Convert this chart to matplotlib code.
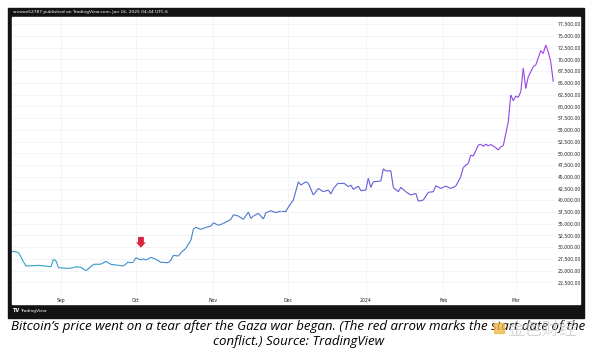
import numpy as np
import matplotlib
matplotlib.use('Agg')
import matplotlib.pyplot as plt
import matplotlib.dates as mdates
from matplotlib.collections import LineCollection
from matplotlib.colors import LinearSegmentedColormap
from matplotlib.patches import Rectangle
from datetime import datetime, timedelta

# BTC/USD closes (irregular sampling)
dates = [
    '2023-08-12', '2023-08-15', '2023-08-17', '2023-08-18', '2023-08-23', '2023-08-28',
    '2023-08-29', '2023-08-30', '2023-08-31', '2023-09-04', '2023-09-06', '2023-09-07',
    '2023-09-09', '2023-09-11', '2023-09-14', '2023-09-17', '2023-09-19', '2023-09-21',
    '2023-09-24', '2023-09-26', '2023-09-28', '2023-09-30', '2023-10-01', '2023-10-03',
    '2023-10-04', '2023-10-05', '2023-10-07', '2023-10-09', '2023-10-11', '2023-10-14',
    '2023-10-15', '2023-10-16', '2023-10-18', '2023-10-19', '2023-10-21', '2023-10-23',
    '2023-10-24', '2023-10-25', '2023-10-27', '2023-10-29', '2023-10-31', '2023-11-01',
    '2023-11-03', '2023-11-05', '2023-11-08', '2023-11-09', '2023-11-11', '2023-11-13',
    '2023-11-15', '2023-11-16', '2023-11-17', '2023-11-19', '2023-11-21', '2023-11-22',
    '2023-11-24', '2023-11-26', '2023-11-28', '2023-11-30', '2023-12-02', '2023-12-03',
    '2023-12-05', '2023-12-06', '2023-12-08', '2023-12-09', '2023-12-11', '2023-12-13',
    '2023-12-15', '2023-12-17', '2023-12-18', '2023-12-19', '2023-12-21', '2023-12-23',
    '2023-12-25', '2023-12-26', '2023-12-27', '2023-12-29', '2023-12-30', '2024-01-01',
    '2024-01-02', '2024-01-03', '2024-01-04', '2024-01-07', '2024-01-08', '2024-01-09',
    '2024-01-11', '2024-01-12', '2024-01-14', '2024-01-15', '2024-01-17', '2024-01-19',
    '2024-01-21', '2024-01-22', '2024-01-24', '2024-01-26', '2024-01-28', '2024-01-29',
    '2024-01-31', '2024-02-02', '2024-02-04', '2024-02-06', '2024-02-08', '2024-02-09',
    '2024-02-11', '2024-02-12', '2024-02-13', '2024-02-15', '2024-02-16', '2024-02-17',
    '2024-02-18', '2024-02-19', '2024-02-20', '2024-02-22', '2024-02-23', '2024-02-24',
    '2024-02-25', '2024-02-27', '2024-02-28', '2024-02-29', '2024-03-01', '2024-03-02',
    '2024-03-03', '2024-03-04', '2024-03-05', '2024-03-06', '2024-03-07', '2024-03-08',
    '2024-03-09', '2024-03-11', '2024-03-12', '2024-03-13', '2024-03-14', '2024-03-15',
    '2024-03-16',
]
prices = [
    29200, 28900, 26900, 26000, 26150, 25860,
    27430, 27100, 25650, 25500, 25650, 25860,
    25720, 25000, 26360, 26400, 27000, 26360,
    26150, 26000, 26920, 26920, 27770, 27280,
    27560, 27280, 27850, 27430, 26800, 26710,
    27280, 28280, 28130, 28840, 29770, 31530,
    33870, 34230, 33800, 34230, 34510, 35220,
    34660, 35080, 35930, 36920, 36640, 35930,
    37490, 36150, 36640, 37220, 36010, 37360,
    37770, 37360, 37720, 37720, 39340, 40050,
    43940, 43240, 43940, 43600, 41110, 42520,
    41820, 42170, 41320, 42450, 43730, 43730,
    42880, 43240, 42310, 43020, 42030, 42170,
    44660, 42750, 43940, 44090, 46700, 46220,
    46290, 42700, 41820, 42750, 41820, 41110,
    41470, 39800, 40050, 41680, 41820, 43090,
    42520, 43020, 42520, 43020, 45020, 47000,
    47860, 49620, 49410, 51750, 51890, 51470,
    51960, 51530, 51890, 51170, 50690, 51390,
    51600, 56710, 62390, 61180, 62180, 61900,
    63090, 68070, 63800, 66280, 67350, 68420,
    68780, 71820, 71260, 73030, 71600, 69480,
    65220,
]

month_ticks = ['2023-09-01', '2023-10-01', '2023-11-01', '2023-12-01',
               '2024-01-01', '2024-02-01', '2024-03-01']
month_labels = ['Sep', 'Oct', 'Nov', 'Dec', '2024', 'Feb', 'Mar']
price_ticks = list(range(22500, 77501, 2500))

# red arrow = start of the Gaza war
arrow_date = '2023-10-03'
arrow_top, arrow_tip = 32200, 29900

caption = ("Bitcoin\u2019s price went on a tear after the Gaza war began. (The red arrow marks the start date of the\n"
           "conflict.) Source: TradingView")

x = mdates.date2num([datetime.strptime(d, '%Y-%m-%d') for d in dates])
y = np.array(prices, dtype=float)

fig = plt.figure(figsize=(6, 3.55), dpi=100)
W, H = 600, 355

def fx(px):
    return px / W

def fy(py):
    return (H - py) / H

# TradingView snapshot frame
dark = '#131313'
fig.patches.append(Rectangle((fx(8), fy(318)), fx(576), (318 - 7.5) / H,
                             transform=fig.transFigure, color=dark, zorder=-3))
fig.patches.append(Rectangle((fx(12), fy(304)), fx(568), (304 - 17) / H,
                             transform=fig.transFigure, color='white', zorder=-2))
fig.text(fx(13), fy(12.3), 'wvwoo52787 published on TradingView.com, Jun 16, 2025 04:44 UTC-6',
         color='white', fontsize=3.2, va='center', ha='left')
fig.text(fx(13), fy(311), 'TV', color='white', fontsize=3.6, fontweight='bold', va='center')
fig.text(fx(20), fy(311), 'TradingView', color='white', fontsize=3.2, va='center')

ax = fig.add_axes([fx(12), fy(294), fx(542), (294 - 17) / H])
ax.set_facecolor('none')

# gradient line teal -> blue -> violet
cmap = LinearSegmentedColormap.from_list('tv', ['#2aa3c6', '#3d8ccf', '#4f6fcf', '#6a58d8', '#a43ce6'])
pts = np.column_stack([x, y]).reshape(-1, 1, 2)
segs = np.concatenate([pts[:-1], pts[1:]], axis=1)
lc = LineCollection(segs, cmap=cmap, linewidth=0.8, zorder=3)
lc.set_array((x[:-1] - x[0]) / (x[-1] - x[0]))
ax.add_collection(lc)

sep1 = mdates.date2num(datetime(2023, 9, 1))
ax.set_xlim(sep1 - 19.6, sep1 + 197.3)
ax.set_ylim(20050, 79000)

ax.set_xticks(mdates.date2num([datetime.strptime(d, '%Y-%m-%d') for d in month_ticks]))
ax.set_xticklabels(month_labels)
ax.set_yticks(price_ticks)
ax.set_yticklabels([f'{v:,.2f}' for v in price_ticks])
ax.yaxis.tick_right()
ax.tick_params(axis='both', length=0, labelsize=3.3, labelcolor='#222222')
ax.tick_params(axis='x', pad=3.2)
ax.tick_params(axis='y', pad=2.5)
ax.grid(True, color='#eef0f4', linewidth=0.5)
for s in ax.spines.values():
    s.set_visible(False)

ad = mdates.date2num(datetime.strptime(arrow_date, '%Y-%m-%d'))
ax.annotate('', xy=(ad, arrow_tip), xytext=(ad, arrow_top),
            arrowprops=dict(arrowstyle='simple,head_length=0.55,head_width=1.0,tail_width=0.6',
                            mutation_scale=7, shrinkA=0, shrinkB=0,
                            color='#d7263d', lw=0), zorder=4)

fig.text(0.497, fy(334), caption, ha='center', va='center', fontsize=9.5,
         family='Open Sans', style='italic', color='black', linespacing=1.22)

# watermark
fig.patches.append(Rectangle((fx(494), fy(333)), fx(10), 10 / H, transform=fig.transFigure,
                             color='#f2b84b', alpha=0.8, zorder=5))
fig.text(fx(507), fy(330), '金色财经', family=['Noto Sans CJK SC', 'DejaVu Sans'],
         fontsize=12.5, color='#c8c8c8', alpha=0.75, va='center', ha='left', zorder=5)

fig.savefig('out.png', dpi=100)
